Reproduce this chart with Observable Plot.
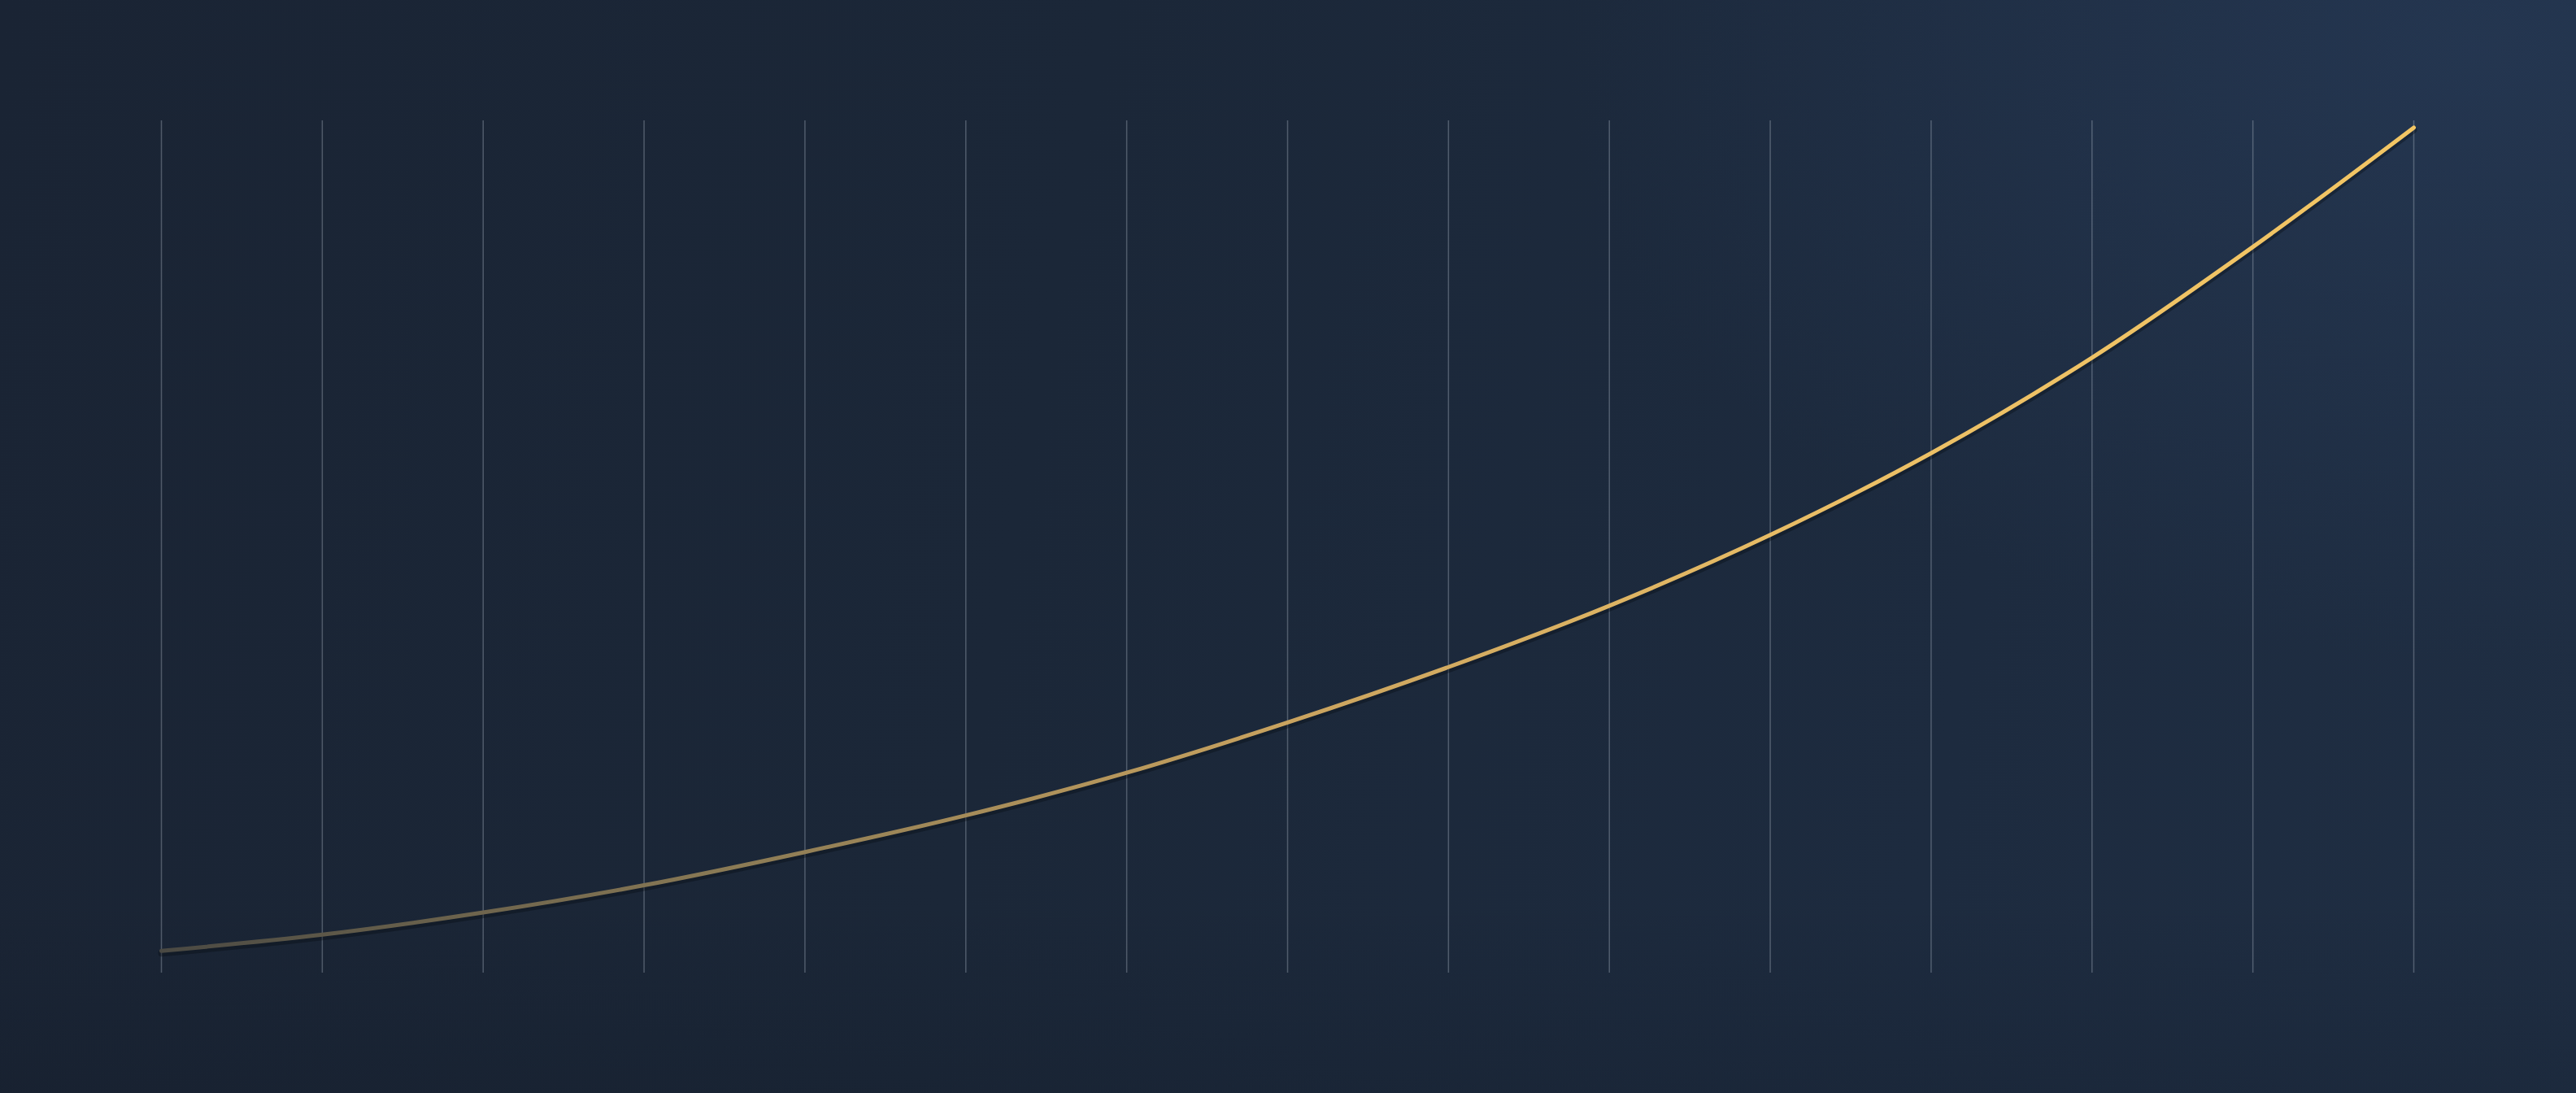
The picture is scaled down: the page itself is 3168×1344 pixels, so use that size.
<!DOCTYPE html>
<html>
<head>
<meta charset="utf-8">
<script src="https://cdn.jsdelivr.net/npm/d3@7"></script>
<script src="https://cdn.jsdelivr.net/npm/@observablehq/plot@0.6"></script>
<style>
  html, body { margin: 0; padding: 0; width: 3168px; height: 1344px; overflow: hidden; }
  body {
    background:
      radial-gradient(ellipse 1500px 1000px at 3050px 60px, rgba(40,60,90,0.6), rgba(40,60,90,0) 75%),
      linear-gradient(to bottom, rgba(0,0,0,0) 82%, rgba(8,12,20,0.12) 100%),
      linear-gradient(100deg, #1a2434 0%, #1b2738 40%, #1d2b3f 75%, #1f2e43 100%);
  }
  #chart svg { display: block; }
</style>
</head>
<body>
<div id="chart"></div>
<script>
// Grid positions (index along x)
const steps = [0, 1, 2, 3, 4, 5, 6, 7, 8, 9, 10, 11, 12, 13, 14];
// Curve values read at each gridline (0–100 scale)
const values = [2.6, 4.5, 7.1, 10.3, 14.2, 18.5, 23.5, 29.4, 35.9, 43.1, 51.4, 61.0, 72.2, 85.2, 99.2];

const data = steps.map((s, i) => ({step: s, value: values[i]}));

const defs = () => {
  const ns = "http://www.w3.org/2000/svg";
  const d = document.createElementNS(ns, "defs");
  d.innerHTML = `
    <linearGradient id="gold" x1="0" y1="0" x2="1" y2="0">
      <stop offset="0%" stop-color="#4a4943"/>
      <stop offset="25%" stop-color="#8a7a55"/>
      <stop offset="50%" stop-color="#c9a35f"/>
      <stop offset="75%" stop-color="#ebbf66"/>
      <stop offset="100%" stop-color="#f3c664"/>
    </linearGradient>`;
  return d;
};

const chart = Plot.plot({
  width: 3168,
  height: 1344,
  marginLeft: 198,
  marginRight: 200,
  marginTop: 148,
  marginBottom: 148,
  style: { background: "transparent" },
  x: { domain: [0, 14], axis: null },
  y: { domain: [0, 100], axis: null },
  marks: [
    defs,
    Plot.ruleX(steps, { stroke: "#a8b2c0", strokeOpacity: 0.38, strokeWidth: 1.5 }),
    Plot.line(data, { x: "step", y: "value", curve: "catmull-rom", stroke: "#070b12", strokeOpacity: 0.35, strokeWidth: 8, dy: 3 }),
    Plot.line(data, { x: "step", y: "value", curve: "catmull-rom", stroke: "url(#gold)", strokeWidth: 5 })
  ]
});
document.getElementById("chart").appendChild(chart);
</script>
</body>
</html>
